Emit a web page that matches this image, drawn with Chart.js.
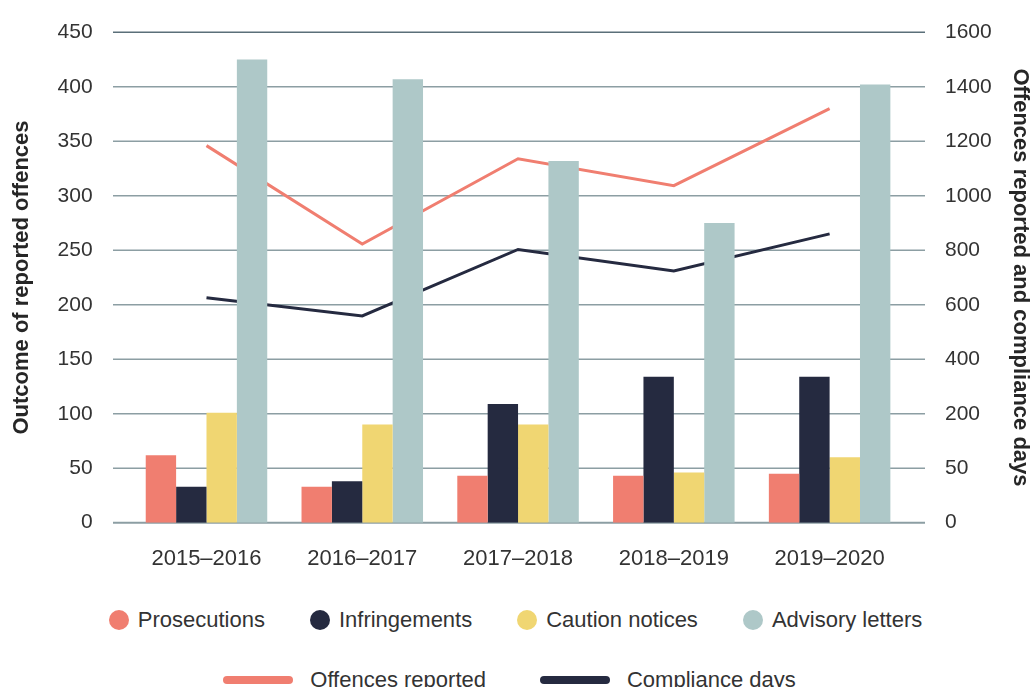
<!DOCTYPE html>
<html>
<head>
<meta charset="utf-8">
<title>Outcome of reported offences</title>
<script src="https://cdn.jsdelivr.net/npm/chart.js@4.4.1/dist/chart.umd.min.js"></script>
<style>
  html, body { margin: 0; padding: 0; background: #fff; overflow: hidden; }
  #wrap { position: relative; width: 1031px; height: 687px; overflow: hidden; }
  #chart { position: absolute; left: 0; top: 0; }
  .legend-row {
    position: absolute; left: 0; width: 1031px; height: 26px;
    display: flex; justify-content: center; align-items: center;
    font: 22px 'Liberation Sans', Arial, sans-serif; color: #333; white-space: nowrap;
  }
  .legend-item { display: inline-flex; align-items: center; }
  #legendBars .legend-item { margin: 0 22.5px; }
  #legendLines { left: -6px; }
  #legendLines .legend-item { margin: 0 27px; }
  .legend-dot { width: 20px; height: 20px; border-radius: 50%; margin-right: 9px; }
  .legend-line { width: 70px; height: 8px; border-radius: 4px; margin-right: 17px; }
</style>
</head>
<body>
<div id="wrap">
  <canvas id="chart" width="1031" height="590"></canvas>
  <div class="legend-row" id="legendBars" style="top:607px"></div>
  <div class="legend-row" id="legendLines" style="top:667px"></div>
</div>
<script>
'use strict';

/* ── data ── */
const YEARS = ['2015–2016', '2016–2017', '2017–2018', '2018–2019', '2019–2020'];

const PROSECUTIONS     = [62, 33, 43, 43, 45];
const INFRINGEMENTS    = [33, 38, 109, 134, 134];
const CAUTION_NOTICES  = [101, 90, 90, 46, 60];
const ADVISORY_LETTERS = [425, 407, 332, 275, 402];

const OFFENCES_REPORTED = [1184, 823, 1136, 1037, 1320];
const COMPLIANCE_DAYS   = [626, 559, 803, 724, 860];

// right axis labels as printed in the source (bottom two are not linear)
const RIGHT_TICK_LABELS = ['0', '50', '200', '400', '600', '800', '1000', '1200', '1400', '1600'];

/* ── colours ── */
const C_SALMON = '#f07e70';
const C_NAVY   = '#252a40';
const C_YELLOW = '#f0d672';
const C_TEAL   = '#aec8c8';

const FONT = "'Liberation Sans', Arial, sans-serif";

/* ── gridlines drawn slightly wider than the plot area ── */
const extendedGrid = {
  id: 'extendedGrid',
  beforeDatasetsDraw(chart) {
    const { ctx, chartArea, scales } = chart;
    const y = scales.y;
    const last = y.ticks.length - 1;
    ctx.save();
    y.ticks.forEach((t, i) => {
      const py = y.getPixelForValue(t.value);
      ctx.strokeStyle = i === last ? '#5a6f79' : '#8c9ea3';
      ctx.lineWidth = i === 0 ? 2 : 1.5;
      ctx.beginPath();
      ctx.moveTo(chartArea.left - 15.6, py);
      ctx.lineTo(chartArea.right + 17.5, py);
      ctx.stroke();
    });
    ctx.restore();
  }
};

const bar = (label, data, color) => ({
  type: 'bar', label, data, backgroundColor: color, borderWidth: 0,
  yAxisID: 'y', order: 1,
  categoryPercentage: 0.78, barPercentage: 1.0
});

const line = (label, data, color) => ({
  type: 'line', label, data, borderColor: color, backgroundColor: color,
  borderWidth: 3, pointRadius: 0, tension: 0, yAxisID: 'y2', order: 2
});

// fixed-size vertical axes; label overhang must not move the plot area
const fixVertical = width => s => {
  s.width = width;
  s.paddingTop = 0;
  s.paddingBottom = 0;
};

const chart = new Chart(document.getElementById('chart'), {
  data: {
    labels: YEARS,
    datasets: [
      bar('Prosecutions', PROSECUTIONS, C_SALMON),
      bar('Infringements', INFRINGEMENTS, C_NAVY),
      bar('Caution notices', CAUTION_NOTICES, C_YELLOW),
      bar('Advisory letters', ADVISORY_LETTERS, C_TEAL),
      line('Offences reported', OFFENCES_REPORTED, C_SALMON),
      line('Compliance days', COMPLIANCE_DAYS, C_NAVY)
    ]
  },
  options: {
    responsive: false,
    animation: false,
    layout: { padding: { top: 32.3, left: 0, right: 0, bottom: 0 } },
    plugins: { legend: { display: false }, tooltip: { enabled: false } },
    scales: {
      x: {
        grid: { display: false },
        border: { display: false },
        ticks: { color: '#333', font: { family: FONT, size: 22 }, padding: 15 },
        afterFit: s => { s.height = 67.3; s.paddingLeft = 0; s.paddingRight = 0; }
      },
      y: {
        position: 'left',
        min: 0, max: 450,
        grid: { display: false },
        border: { display: false },
        ticks: { stepSize: 50, color: '#333', font: { family: FONT, size: 21 }, padding: 28 },
        title: {
          display: true, text: 'Outcome of reported offences', color: '#262626',
          font: { family: FONT, size: 22, weight: 'bold' }, padding: { top: 9 }
        },
        afterFit: fixVertical(128.6)
      },
      y2: {
        position: 'right',
        min: -200, max: 1600,
        grid: { display: false },
        border: { display: false },
        ticks: {
          stepSize: 200, color: '#333', font: { family: FONT, size: 21 }, padding: 29.5,
          callback: (v, i) => RIGHT_TICK_LABELS[i]
        },
        title: {
          display: true, text: 'Offences reported and compliance days', color: '#262626',
          font: { family: FONT, size: 22, weight: 'bold' }, padding: { top: -2 }
        },
        afterFit: fixVertical(123.5)
      }
    }
  },
  plugins: [extendedGrid]
});

/* ── HTML legend built from the datasets ── */
function buildLegend() {
  const barsEl = document.getElementById('legendBars');
  const linesEl = document.getElementById('legendLines');
  chart.data.datasets.forEach(ds => {
    const item = document.createElement('span');
    item.className = 'legend-item';
    const mark = document.createElement('span');
    if (ds.type === 'bar') {
      mark.className = 'legend-dot';
      mark.style.background = ds.backgroundColor;
    } else {
      mark.className = 'legend-line';
      mark.style.background = ds.borderColor;
    }
    const txt = document.createElement('span');
    txt.textContent = ds.label;
    item.appendChild(mark);
    item.appendChild(txt);
    (ds.type === 'bar' ? barsEl : linesEl).appendChild(item);
  });
}
buildLegend();
</script>
</body>
</html>
